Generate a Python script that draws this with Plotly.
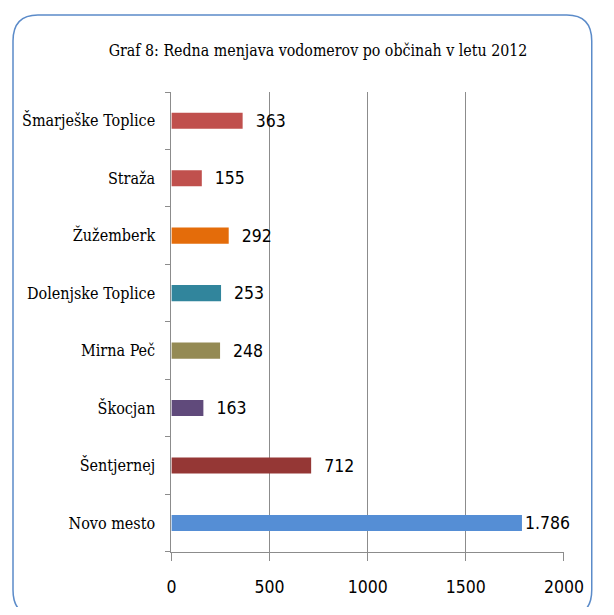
import plotly.graph_objects as go

# občine, od spodaj navzgor
obcine = ["Novo mesto", "Šentjernej", "Škocjan", "Mirna Peč",
          "Dolenjske Toplice", "Žužemberk", "Straža", "Šmarješke Toplice"]
vodomeri = [1786, 712, 163, 248, 253, 292, 155, 363]
oznake = ["1.786", "712", "163", "248", "253", "292", "155", "363"]
barve = ["#558ED5", "#953735", "#604A7B", "#948A54",
         "#31859C", "#E46C0A", "#C0504D", "#C0504D"]
x_ticks = [0, 500, 1000, 1500, 2000]

# stran ima 8px roba, zato je slika 16px manjša od okna
OFF = 8
W, H = 614 - 2 * OFF, 615 - 2 * OFF
num_font = "DejaVu Sans Condensed, Liberation Sans, sans-serif"
lab_font = "DejaVu Serif Condensed, Liberation Serif, serif"


def px(x):
    return (x - OFF) / W


def py(y):
    return 1 - (y - OFF) / H


bars = go.Bar(
    x=vodomeri, y=obcine, orientation="h",
    marker=dict(color=barve, line=dict(width=0)),
    text=["\u00a0\u00a0" + t if v < 1000 else t for t, v in zip(oznake, vodomeri)],
    textposition="outside", cliponaxis=False, constraintext="none",
    textfont=dict(family=num_font, size=17.5, color="black"),
    width=0.28,
)


# zaobljen okvir okrog grafa
def rr(x0, y0, x1, y1, r):
    rx, ry = r / W, r / H
    X0, X1 = px(x0), px(x1)
    Y0, Y1 = py(y1), py(y0)
    return (f"M {X0+rx},{Y1} L {X1-rx},{Y1} Q {X1},{Y1} {X1},{Y1-ry} "
            f"L {X1},{Y0+ry} Q {X1},{Y0} {X1-rx},{Y0} L {X0+rx},{Y0} "
            f"Q {X0},{Y0} {X0},{Y0+ry} L {X0},{Y1-ry} Q {X0},{Y1} {X0+rx},{Y1} Z")


fig = go.Figure(data=[bars])
fig.update_layout(
    width=W, height=H,
    margin=dict(l=0, r=0, t=0, b=0),
    paper_bgcolor="white", plot_bgcolor="white",
    showlegend=False,
    title=dict(text="Graf 8: Redna menjava vodomerov po občinah v letu 2012",
               x=px(318), xanchor="center", y=py(50), yanchor="middle",
               font=dict(family=lab_font, size=15.8, color="black")),
    xaxis=dict(domain=[px(173.3), px(583)], range=[0, 2000],
               tickvals=x_ticks, ticktext=[str(v) for v in x_ticks],
               showgrid=True, gridcolor="#8C8C8C", gridwidth=1,
               zeroline=False, showline=True, linecolor="#8C8C8C",
               ticks="outside", ticklen=8, tickcolor="#8C8C8C",
               ticklabelstandoff=11,
               tickfont=dict(family=num_font, size=17.5, color="black")),
    yaxis=dict(domain=[py(551.7), py(92)],
               categoryorder="array", categoryarray=obcine,
               showline=True, linecolor="#8C8C8C", showgrid=False,
               ticks="outside", tickson="boundaries", ticklen=5,
               tickcolor="#8C8C8C", ticklabelstandoff=12,
               tickfont=dict(family=lab_font, size=16, color="black")),
    shapes=[dict(type="path", xref="paper", yref="paper",
                 path=rr(8, 15, 612, 616, 26),
                 line=dict(color="#5B8BC9", width=1.5))],
)

fig.write_html("out.html", config={"responsive": False})
